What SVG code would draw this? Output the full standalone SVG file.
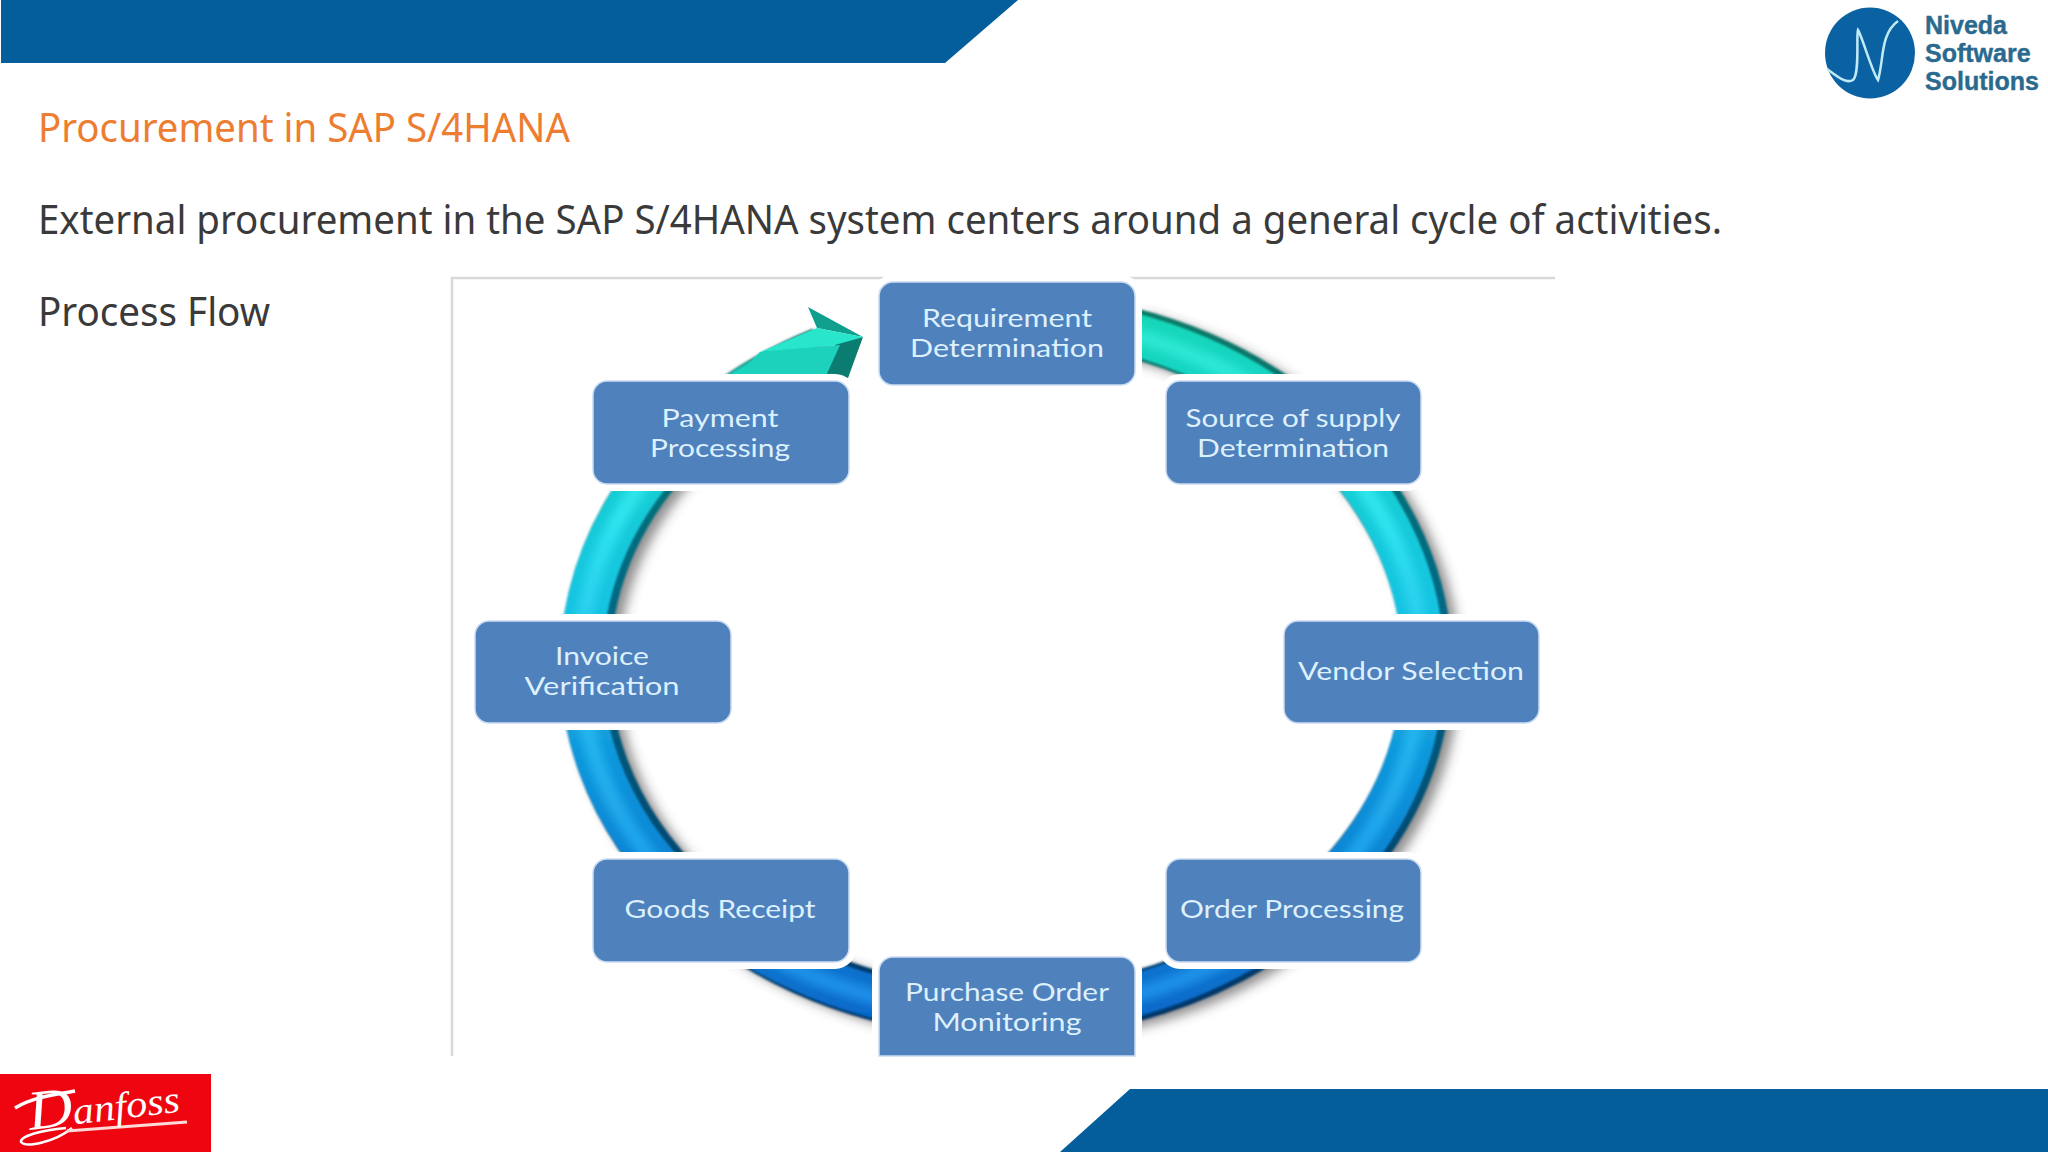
<svg xmlns="http://www.w3.org/2000/svg" width="2048" height="1152" viewBox="0 0 2048 1152">
<style>
.band{fill:#045e9c}
.h{font-family:"Noto Sans","Open Sans",sans-serif;font-size:40px}
.halo{fill:#fff;stroke:#fff;stroke-width:14}
.box{fill:#4f81bd;stroke:#c9dcf2;stroke-width:1.5}
.lbl{font-family:"Lato","Noto Sans",sans-serif;font-size:25px;fill:#dcf0fd;text-anchor:middle}
.logo{font-family:"Liberation Sans",Arial,sans-serif;font-size:25px;font-weight:bold;fill:#2a6a8e;stroke:#2a6a8e;stroke-width:.4}
.arc{fill:none}
</style>
<defs>
<linearGradient id="tube" gradientUnits="userSpaceOnUse" x1="0" y1="300" x2="0" y2="1030">
<stop offset="0" stop-color="#13d8b4"/><stop offset="0.18" stop-color="#17d2cf"/><stop offset="0.42" stop-color="#19c4e2"/><stop offset="0.62" stop-color="#1198dc"/><stop offset="1" stop-color="#0667c8"/>
</linearGradient>
<linearGradient id="tubeDark" gradientUnits="userSpaceOnUse" x1="0" y1="300" x2="0" y2="1030">
<stop offset="0" stop-color="#077a66"/><stop offset="0.4" stop-color="#066a84"/><stop offset="1" stop-color="#023468"/>
</linearGradient>
<linearGradient id="tubeLight" gradientUnits="userSpaceOnUse" x1="0" y1="300" x2="0" y2="1030">
<stop offset="0" stop-color="#2ce8cc"/><stop offset="0.3" stop-color="#2ee4ee"/><stop offset="0.6" stop-color="#22b4ee"/><stop offset="1" stop-color="#1a88e6"/>
</linearGradient>
<filter id="blur8" x="-20%" y="-20%" width="140%" height="140%"><feGaussianBlur stdDeviation="6"/></filter>
<filter id="blur4" x="-20%" y="-20%" width="140%" height="140%"><feGaussianBlur stdDeviation="4"/></filter>
<filter id="blur1" x="-5%" y="-5%" width="110%" height="110%"><feGaussianBlur stdDeviation="1.3"/></filter>
<path id="ringPath" d="M1130 332.4 A421 348 0 1 1 822 352"/>
<clipPath id="panel"><rect x="453" y="279" width="1102" height="777"/></clipPath>
</defs>
<rect width="2048" height="1152" fill="#fff"/>
<polygon class="band" points="1,0 1018,0 945,63 1,63"/>
<polygon class="band" points="1060,1152 1130,1089 2048,1089 2048,1152"/>

<g id="logo-niveda">
<ellipse cx="1870" cy="53" rx="45" ry="45.5" fill="#0b62a3"/>
<path d="M1827 69 C1838 77 1846 84 1853 80 C1860 74 1856 36 1858 30 C1862 36 1872 72 1878 80 C1884 60 1880 34 1898 21" fill="none" stroke="#bfeaf6" stroke-width="2.5"/>
<text class="logo" x="1925" y="34">Niveda</text>
<text class="logo" x="1925" y="62">Software</text>
<text class="logo" x="1925" y="90">Solutions</text>
</g>

<text class="h" x="38" y="142" fill="#ed7d31" textLength="532" lengthAdjust="spacingAndGlyphs">Procurement in SAP S/4HANA</text>
<text class="h" x="38" y="234" fill="#3a3a3a" textLength="1684" lengthAdjust="spacingAndGlyphs">External procurement in the SAP S/4HANA system centers around a general cycle of activities.</text>
<text class="h" x="38" y="326" fill="#3a3a3a" textLength="232" lengthAdjust="spacingAndGlyphs">Process Flow</text>

<path d="M452 1056 V278 H1555" fill="none" stroke="#d9d9d9" stroke-width="2.5"/>

<g id="connectors" clip-path="url(#panel)">
<use href="#ringPath" class="arc" transform="translate(9 5)" stroke="#444" stroke-opacity=".6" stroke-width="48" filter="url(#blur8)"/>
<g filter="url(#blur1)">
<use href="#ringPath" class="arc" stroke="url(#tubeDark)" stroke-width="50"/>
<use href="#ringPath" class="arc" transform="translate(-4 0)" stroke="url(#tube)" stroke-width="42"/>
</g>
<use href="#ringPath" class="arc" transform="translate(-5 0)" stroke="url(#tubeLight)" stroke-width="16" filter="url(#blur4)"/>
<g id="arrowhead">
<polygon points="808,307 863,337 817,328" fill="#0f9f8c"/>
<polygon points="817,328 863,337 840,345 760,352" fill="#27e6cc"/>
<polygon points="863,337 848,378 825,372 835,345" fill="#0a7d70"/>
<polygon points="760,352 840,345 825,378 735,378" fill="#1cd2bc"/>
</g>
</g>

<g id="node-requirement"><rect class="halo" x="879" y="282" width="256" height="103" rx="14"/><rect class="box" x="879" y="282" width="256" height="103" rx="14"/><text class="lbl" x="1007" y="327" textLength="170" lengthAdjust="spacingAndGlyphs">Requirement</text><text class="lbl" x="1007" y="357" textLength="194" lengthAdjust="spacingAndGlyphs">Determination</text></g>
<g id="node-source"><rect class="halo" x="1166" y="381" width="255" height="103" rx="14"/><rect class="box" x="1166" y="381" width="255" height="103" rx="14"/><text class="lbl" x="1293" y="427" textLength="215" lengthAdjust="spacingAndGlyphs">Source of supply</text><text class="lbl" x="1293" y="457" textLength="192" lengthAdjust="spacingAndGlyphs">Determination</text></g>
<g id="node-vendor"><rect class="halo" x="1284" y="621" width="255" height="102" rx="14"/><rect class="box" x="1284" y="621" width="255" height="102" rx="14"/><text class="lbl" x="1411" y="680" textLength="226" lengthAdjust="spacingAndGlyphs">Vendor Selection</text></g>
<g id="node-order"><rect class="halo" x="1166" y="859" width="255" height="103" rx="14"/><rect class="box" x="1166" y="859" width="255" height="103" rx="14"/><text class="lbl" x="1292" y="918" textLength="224" lengthAdjust="spacingAndGlyphs">Order Processing</text></g>
<g id="node-monitoring"><path class="halo" d="M893 957 H1121 A14 14 0 0 1 1135 971 V1056 H879 V971 A14 14 0 0 1 893 957 Z"/><rect x="860" y="1056" width="300" height="20" fill="#fff"/><path class="box" d="M893 957 H1121 A14 14 0 0 1 1135 971 V1056 H879 V971 A14 14 0 0 1 893 957 Z"/><text class="lbl" x="1007" y="1001" textLength="204" lengthAdjust="spacingAndGlyphs">Purchase Order</text><text class="lbl" x="1007" y="1031" textLength="149" lengthAdjust="spacingAndGlyphs">Monitoring</text></g>
<g id="node-goods"><rect class="halo" x="593" y="859" width="256" height="103" rx="14"/><rect class="box" x="593" y="859" width="256" height="103" rx="14"/><text class="lbl" x="720" y="918" textLength="191" lengthAdjust="spacingAndGlyphs">Goods Receipt</text></g>
<g id="node-invoice"><rect class="halo" x="475" y="621" width="256" height="102" rx="14"/><rect class="box" x="475" y="621" width="256" height="102" rx="14"/><text class="lbl" x="602" y="665" textLength="94" lengthAdjust="spacingAndGlyphs">Invoice</text><text class="lbl" x="602" y="695" textLength="155" lengthAdjust="spacingAndGlyphs">Verification</text></g>
<g id="node-payment"><rect class="halo" x="593" y="381" width="256" height="103" rx="14"/><rect class="box" x="593" y="381" width="256" height="103" rx="14"/><text class="lbl" x="720" y="427" textLength="117" lengthAdjust="spacingAndGlyphs">Payment</text><text class="lbl" x="720" y="457" textLength="140" lengthAdjust="spacingAndGlyphs">Processing</text></g>

<g id="logo-danfoss">
<rect x="0" y="1074" width="211" height="78" fill="#ee0510"/>
<path d="M15 1108 C35 1096 60 1094 75 1091" fill="none" stroke="#fff" stroke-width="3.5"/>
<path d="M66 1128 C42 1130 20 1136 21 1142 C26 1148 55 1142 72 1128" fill="none" stroke="#fff" stroke-width="2.5"/>
<path d="M67 1131 L187 1122" fill="none" stroke="#ffd8d8" stroke-width="3"/>
<text x="30" y="1130" transform="rotate(-7 30 1130)" font-family="Liberation Serif,serif" font-style="italic" font-size="38" fill="#fff" textLength="152" lengthAdjust="spacingAndGlyphs"><tspan font-size="56">D</tspan>anfoss</text>
</g>
</svg>
